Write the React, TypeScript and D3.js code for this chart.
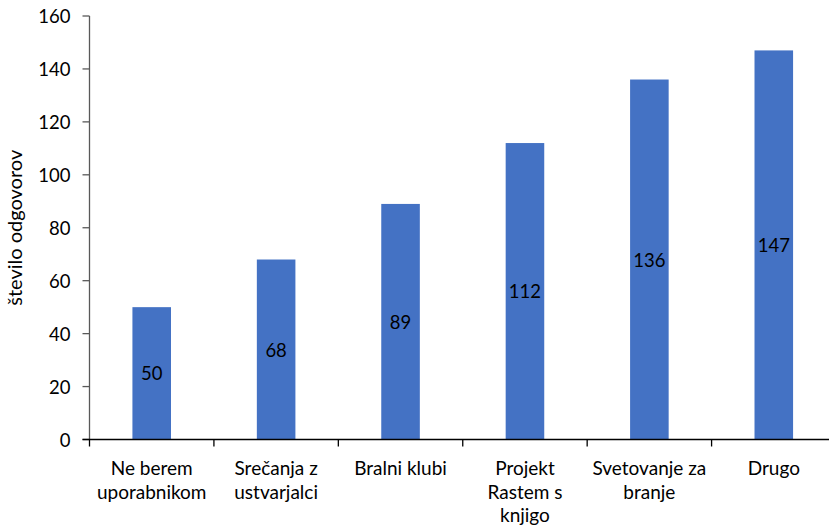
import React from "react";
import * as d3 from "d3";

const categories: string[][] = [
  ["Ne berem", "uporabnikom"],
  ["Srečanja z", "ustvarjalci"],
  ["Bralni klubi"],
  ["Projekt", "Rastem s", "knjigo"],
  ["Svetovanje za", "branje"],
  ["Drugo"],
];
const values: number[] = [50, 68, 89, 112, 136, 147];
const yTicks: number[] = [0, 20, 40, 60, 80, 100, 120, 140, 160];
const yTitle = "število odgovorov";

const W = 829;
const H = 532;
const left = 89.5;
const right = 836;
const top = 16;
const bottom = 439.5;
const font = "Lato, 'Open Sans', sans-serif";

export default function App() {
  const idx = categories.map((_, i) => String(i));
  const x = d3.scaleBand<string>().domain(idx).range([left, right]).paddingInner(0).paddingOuter(0);
  const y = d3.scaleLinear().domain([0, 160]).range([bottom, top]);
  const bw = x.bandwidth() * 0.31;
  const bounds = [...idx.map((k) => x(k) as number), right];

  return (
    <svg width={W} height={H} style={{ position: "absolute", left: 0, top: 0 }}>
      <rect x={0} y={0} width={W} height={H} fill="#fff" />
      {values.map((v, i) => {
        const cx = (x(String(i)) as number) + x.bandwidth() / 2;
        return (
          <g key={i}>
            <rect x={cx - bw / 2} y={y(v)} width={bw} height={y(0) - y(v)} fill="#4472C4" />
            <text
              x={cx}
              y={(y(v) + y(0)) / 2}
              textAnchor="middle"
              dominantBaseline="central"
              fontFamily={font}
              fontSize={18.5}
              fill="#000"
            >
              {v}
            </text>
          </g>
        );
      })}
      <line x1={left} x2={left} y1={top} y2={bottom} stroke="#595959" strokeWidth={1.3} />
      {yTicks.map((t) => (
        <g key={t}>
          <line x1={left - 7} x2={left} y1={y(t)} y2={y(t)} stroke="#595959" strokeWidth={1.3} />
          <text
            x={left - 19}
            y={y(t)}
            textAnchor="end"
            dominantBaseline="central"
            fontFamily={font}
            fontSize={18.5}
            fill="#000"
          >
            {t}
          </text>
        </g>
      ))}
      <line x1={left - 7} x2={right} y1={bottom} y2={bottom} stroke="#000" strokeWidth={1.3} />
      {bounds.map((b, i) => (
        <line key={i} x1={b} x2={b} y1={bottom} y2={bottom + 7} stroke="#000" strokeWidth={1.3} />
      ))}
      {categories.map((lines, i) => {
        const cx = (x(String(i)) as number) + x.bandwidth() / 2;
        return (
          <text key={i} textAnchor="middle" fontFamily={font} fontSize={19} fill="#000">
            {lines.map((l, j) => (
              <tspan key={j} x={cx} y={475 + j * 23.5}>
                {l}
              </tspan>
            ))}
          </text>
        );
      })}
      <text
        transform={`translate(22,${(top + bottom) / 2}) rotate(-90)`}
        textAnchor="middle"
        fontFamily={font}
        fontSize={20}
        fill="#000"
      >
        {yTitle}
      </text>
    </svg>
  );
}
